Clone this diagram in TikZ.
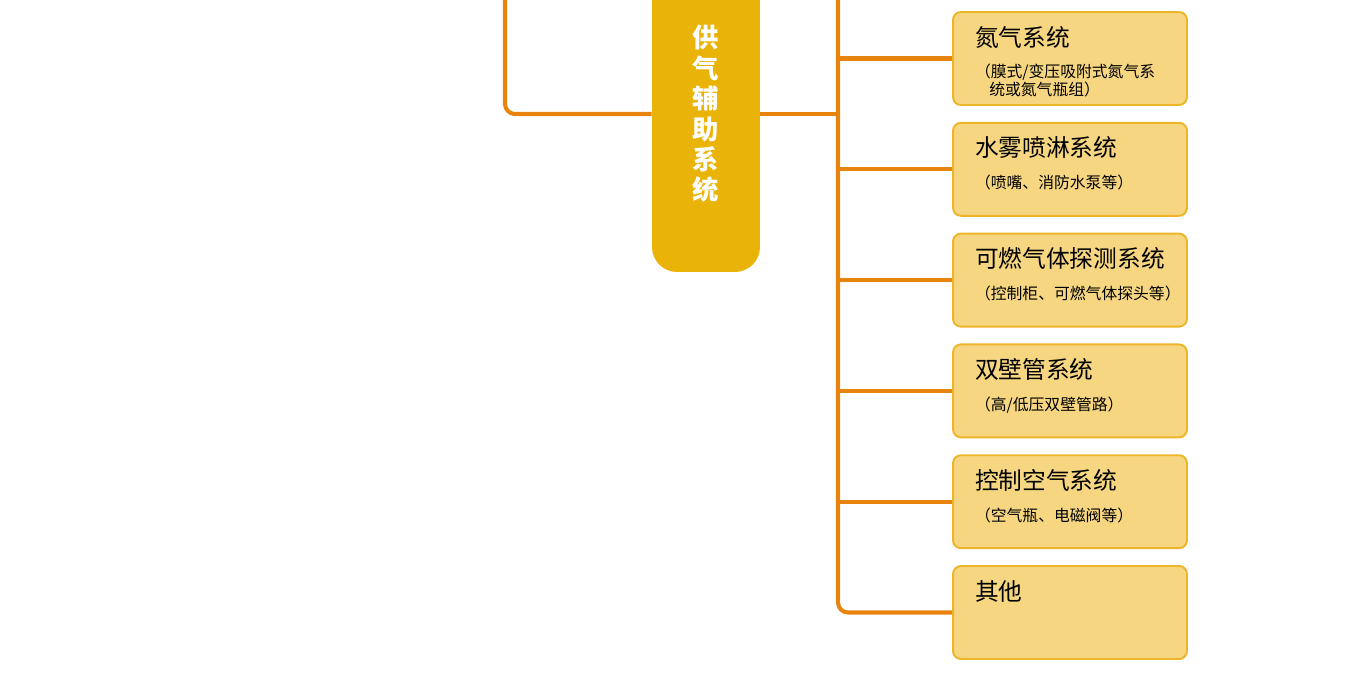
\documentclass[tikz,border=0pt]{standalone}
\usepackage{fontspec}
\setmainfont{Noto Sans CJK SC}
\definecolor{linkorange}{HTML}{E8840E}
\definecolor{supgold}{HTML}{EAB308}
\definecolor{boxfill}{HTML}{F6D680}
\definecolor{boxline}{HTML}{EDB62A}
\newcommand{\itemtext}[2]{\parbox[t][1.38cm][t]{3.8cm}{\vspace*{1.2pt}{\fontsize{13.5}{16}\selectfont #1\par}\vspace{7.9pt}{\fontsize{9}{10.2}\selectfont #2\par}}}

\begin{document}
\begin{tikzpicture}[x=0.02cm,y=-0.02cm,
  link/.style={draw=linkorange,line width=2.3pt,rounded corners=5.7pt},
  sup/.style={fill=supgold,rounded corners=0.5cm,minimum width=2.16cm,minimum height=6.32cm,
    text=white,align=center,font=\fontsize{15}{17.3}\selectfont\bfseries},
  item/.style={draw=boxline,fill=boxfill,line width=1.1pt,rounded corners=4.5pt,
    inner xsep=0.44cm,inner ysep=0.24cm}]

\clip (0,0) rectangle (1366,698);

\node[sup] (s) at (706,114) {供\\气\\辅\\助\\系\\统};

\node[item] (n1) at (1070,58.5) {\itemtext{氮气系统}{（膜式/变压吸附式氮气系\\\hspace*{0.9em}统或氮气瓶组）}};
\node[item] (n2) at (1070,169.3) {\itemtext{水雾喷淋系统}{（喷嘴、消防水泵等）}};
\node[item] (n3) at (1070,280.1) {\itemtext{可燃气体探测系统}{（控制柜、可燃气体探头等）}};
\node[item] (n4) at (1070,390.9) {\itemtext{双壁管系统}{（高/低压双壁管路）}};
\node[item] (n5) at (1070,501.7) {\itemtext{控制空气系统}{（空气瓶、电磁阀等）}};
\node[item] (n6) at (1070,612.5) {\itemtext{其他}{}};

\coordinate (l) at (505,-10);
\coordinate (b) at (838,-10);

\draw[link] (l) |- (s.west);
\draw[link] (s.east) -- (s.east -| b);
\draw[link] (b) |- (n6.west);
\foreach \i in {1,...,5}
  \draw[link] (b |- n\i.west) -- (n\i.west);

\end{tikzpicture}
\end{document}
